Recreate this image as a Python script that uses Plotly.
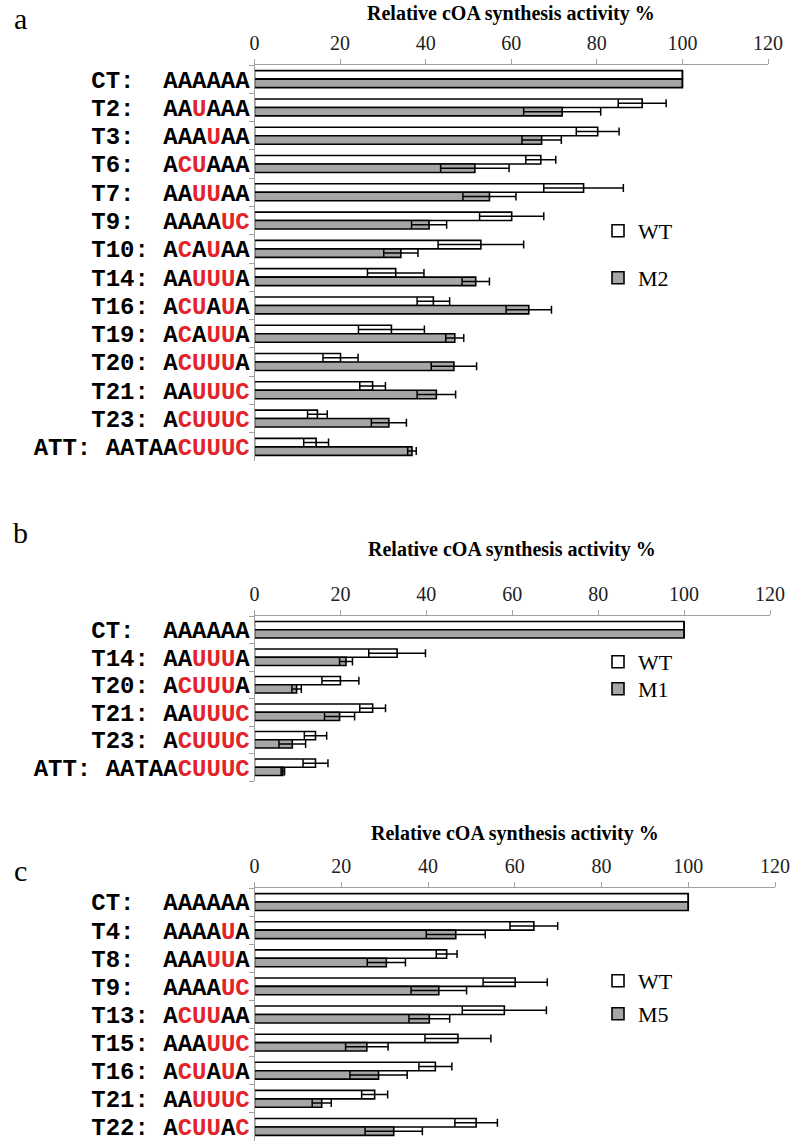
import plotly.graph_objects as go

# ---------------- data ----------------
a_names = ["CT:", "T2:", "T3:", "T6:", "T7:", "T9:", "T10:", "T14:", "T16:", "T19:", "T20:", "T21:", "T23:", "ATT:"]
a_seqs = ["AAAAAA", "AAUAAA", "AAAUAA", "ACUAAA", "AAUUAA", "AAAAUC", "ACAUAA", "AAUUUA", "ACUAUA", "ACAUUA", "ACUUUA", "AAUUUC", "ACUUUC", "AATAACUUUC"]
a_wt = [100, 90.6, 80.2, 66.9, 76.9, 60.1, 52.9, 33.0, 41.8, 32.0, 20.1, 27.6, 14.7, 14.4]
a_wt_err = [None, 5.6, 5.0, 3.5, 9.3, 7.5, 10.0, 6.6, 3.8, 7.7, 4.1, 3.0, 2.3, 2.9]
a_m2 = [100, 71.9, 67.1, 51.5, 54.9, 40.8, 34.2, 51.7, 64.1, 46.8, 46.6, 42.5, 31.4, 36.8]
a_m2_err = [None, 9.0, 4.6, 8.0, 6.2, 4.1, 4.0, 3.2, 5.3, 2.1, 5.3, 4.5, 4.1, 1.0]

b_names = ["CT:", "T14:", "T20:", "T21:", "T23:", "ATT:"]
b_seqs = ["AAAAAA", "AAUUUA", "ACUUUA", "AAUUUC", "ACUUUC", "AATAACUUUC"]
b_wt = [100, 33.2, 20.0, 27.5, 14.2, 14.2]
b_wt_err = [None, 6.6, 4.3, 3.0, 2.6, 2.9]
b_m1 = [100, 21.3, 9.8, 19.8, 8.8, 6.6]
b_m1_err = [None, 1.5, 1.1, 3.5, 3.1, 0.4]

c_names = ["CT:", "T4:", "T8:", "T9:", "T13:", "T15:", "T16:", "T21:", "T22:"]
c_seqs = ["AAAAAA", "AAAAUA", "AAAUUA", "AAAAUC", "ACUUAA", "AAAUUC", "ACUAUA", "AAUUUC", "ACUUAC"]
c_wt = [100, 64.4, 44.3, 60.1, 57.6, 46.9, 41.7, 27.7, 51.1]
c_wt_err = [None, 5.5, 2.4, 7.4, 9.7, 7.6, 3.8, 3.0, 4.9]
c_m5 = [100, 46.4, 30.4, 42.5, 40.3, 25.9, 28.6, 15.5, 32.1]
c_m5_err = [None, 6.8, 4.4, 6.4, 4.7, 4.9, 6.6, 2.2, 6.6]

x_ticks = [0, 20, 40, 60, 80, 100, 120]
axis_title = "Relative cOA synthesis activity %"

# ---------------- style ----------------
W, H = 800, 1142
RED = "#e3232a"
GRAY = "#a6a6a6"
AXC = "#a0a0a0"
SERIF = "Liberation Serif, Times New Roman, serif"
MONO = "Liberation Mono, Courier New, monospace"


def py(px):
    return 1 - px / H


def label(name, s):
    pad = "\u00a0" * (5 - len(name))
    letters = "".join(
        f'<span style="color:{RED}">{ch}</span>' if ch in "CU" else ch for ch in s
    )
    return name + pad + letters


panels = [
    dict(key="", names=a_names, seqs=a_seqs, wt=a_wt, wte=a_wt_err, mu=a_m2, mue=a_m2_err,
         mname="M2", xpx=(254.5, 768), ypx=(65, 461), title_y=14, letter="a", letter_y=18,
         leg=[("legend", 231), ("legend2", 278)]),
    dict(key="2", names=b_names, seqs=b_seqs, wt=b_wt, wte=b_wt_err, mu=b_m1, mue=b_m1_err,
         mname="M1", xpx=(254.5, 770), ypx=(616, 781), title_y=549, letter="b", letter_y=532,
         leg=[("legend3", 662), ("legend4", 689)]),
    dict(key="3", names=c_names, seqs=c_seqs, wt=c_wt, wte=c_wt_err, mu=c_m5, mue=c_m5_err,
         mname="M5", xpx=(254.5, 775), ypx=(888, 1141), title_y=833, letter="c", letter_y=870,
         leg=[("legend5", 981), ("legend6", 1014)]),
]

fig = go.Figure()
annotations = []
layout = dict(
    template="none", showlegend=True,
    width=W, height=H, margin=dict(l=0, r=0, t=0, b=0, autoexpand=False),
    paper_bgcolor="white", plot_bgcolor="white",
    barmode="group", bargap=0.4, bargroupgap=0,
)

for p in panels:
    k = p["key"]
    xa, ya = "x" + k, "y" + k
    for nm, vals, errs, fill, lg in [
        ("WT", p["wt"], p["wte"], "white", p["leg"][0][0]),
        (p["mname"], p["mu"], p["mue"], GRAY, p["leg"][1][0]),
    ]:
        fig.add_trace(go.Bar(
            y=p["names"], x=vals, orientation="h", name=nm,
            xaxis=xa, yaxis=ya, legend=lg, showlegend=True,
            marker=dict(color=fill, line=dict(color="black", width=1.6)),
            error_x=dict(type="data", array=errs, color="black", thickness=1.5, width=4),
        ))
    layout["xaxis" + k] = dict(
        domain=[p["xpx"][0] / W, p["xpx"][1] / W], anchor=ya, side="top",
        range=[0, 120], tickvals=x_ticks, showgrid=False, zeroline=False,
        showline=True, linecolor=AXC, linewidth=1, ticks="outside", ticklen=5,
        tickcolor=AXC, tickfont=dict(family=SERIF, size=20, color="#222"),
        ticklabelstandoff=1, automargin=False,
    )
    layout["yaxis" + k] = dict(
        domain=[py(p["ypx"][1]), py(p["ypx"][0])], anchor=xa, type="category",
        autorange="reversed", tickvals=p["names"],
        ticktext=[label(n, s) for n, s in zip(p["names"], p["seqs"])],
        tickson="boundaries", ticks="outside", ticklen=5, tickcolor=AXC,
        showline=True, linecolor=AXC, linewidth=1, showgrid=False, zeroline=False,
        tickfont=dict(family=MONO, size=24, color="black", weight="bold"),
        ticklabelstandoff=-1, automargin=False,
    )
    xc = (p["xpx"][0] + p["xpx"][1]) / 2 / W
    annotations.append(dict(
        text="<b>" + axis_title + "</b>", x=xc, y=py(p["title_y"]), xref="paper", yref="paper",
        showarrow=False, xanchor="center", yanchor="middle",
        font=dict(family=SERIF, size=20, color="black"),
    ))
    annotations.append(dict(
        text=p["letter"], x=20 / W, y=py(p["letter_y"]), xref="paper", yref="paper",
        showarrow=False, xanchor="center", yanchor="middle",
        font=dict(family=SERIF, size=30, color="black"),
    ))
    for lg, ypos in p["leg"]:
        layout[lg] = dict(
            x=598 / W, y=py(ypos), xanchor="left", yanchor="middle",
            bgcolor="rgba(0,0,0,0)", borderwidth=0,
            font=dict(family=SERIF, size=22, color="black"),
            itemclick=False, itemdoubleclick=False,
        )

layout["annotations"] = annotations
fig.update_layout(**layout)
fig.write_html(
    "out.html",
    config={"displayModeBar": False, "staticPlot": True},
    post_script="document.body.style.margin='0px';document.body.style.overflow='hidden';",
)
